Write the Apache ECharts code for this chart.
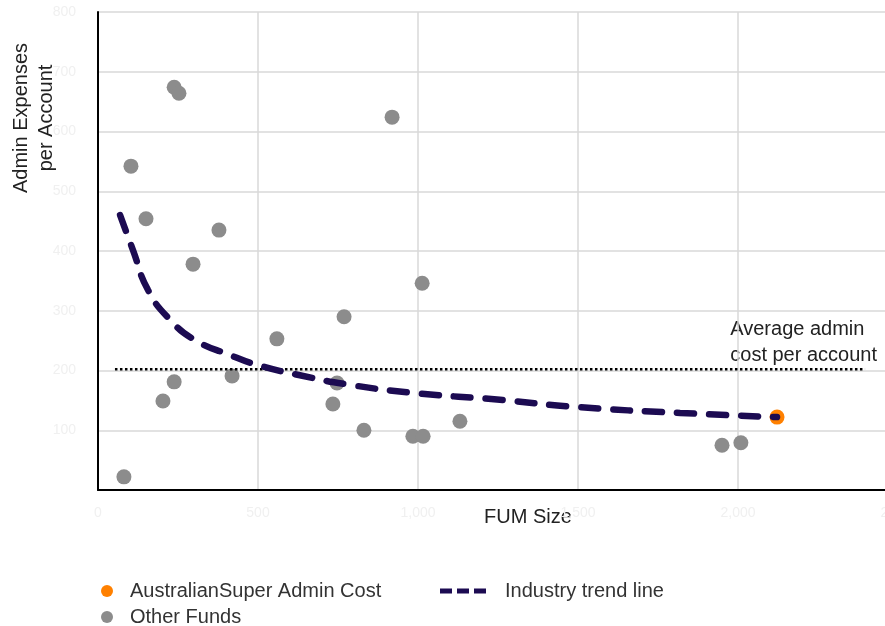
<!DOCTYPE html>
<html>
<head>
<meta charset="utf-8">
<script src="https://cdn.jsdelivr.net/npm/echarts@6/dist/echarts.min.js"></script>
<style>html,body{margin:0;padding:0;background:#fff}#c{width:885px;height:626px}</style>
</head>
<body>
<div id="c"></div>
<script>
// Data
const otherFundsFUM = [81, 103, 150, 203, 238, 238, 253, 297, 378, 419, 559, 734, 747, 769, 831, 919, 984, 1016, 1013, 1131, 1950, 2009];
const otherFundsCost = [22, 542, 454, 149, 181, 674, 664, 378, 435, 191, 253, 144, 179, 290, 100, 624, 90, 90, 346, 115, 75, 79];
const ausSuperFUM = [2122];
const ausSuperCost = [122];
const trendFUM = [69, 109, 156, 225, 303, 412, 500, 631, 787, 997, 1256, 1494, 1819, 2122];
const trendCost = [460, 402, 335, 285, 251, 226, 209, 192, 176, 162, 151, 139, 129, 122];
const avgCost = 202;
const avgFUMRange = [53, 2397];
const xTicks = [0, 500, 1000, 1500, 2000, 2500];
const yTicks = [0, 100, 200, 300, 400, 500, 600, 700, 800];

const zip = (a, b) => a.map((v, i) => [v, b[i]]);
const font = 'Liberation Sans, Arial, sans-serif';
const txt = (pad) => ({ fontSize: 20, color: '#333', fontFamily: font, padding: [0, 0, 0, pad] });
const dashIcon = 'path://M0,0h12v5h-12z M17,0h12v5h-12z M34,0h12v5h-12z';

const chart = echarts.init(document.getElementById('c'));
chart.setOption({
  animation: false,
  textStyle: { fontFamily: font },
  grid: { left: 98, width: 800, top: 12, height: 478, outerBoundsMode: 'none', containLabel: false },
  xAxis: {
    type: 'value', min: xTicks[0], max: xTicks[xTicks.length - 1], interval: 500,
    axisLine: { show: true, onZero: false, lineStyle: { color: '#000', width: 2 } },
    axisTick: { show: false },
    splitLine: { show: true, lineStyle: { color: '#d9d9d9', width: 1.5 } },
    axisLabel: { color: '#f0f0f0', fontSize: 14, margin: 16,
      formatter: v => v.toLocaleString('en-US') }
  },
  yAxis: {
    type: 'value', min: yTicks[0], max: yTicks[yTicks.length - 1], interval: 100,
    axisLine: { show: true, onZero: false, lineStyle: { color: '#000', width: 2 } },
    axisTick: { show: false },
    splitLine: { show: true, lineStyle: { color: '#d9d9d9', width: 1.5 } },
    axisLabel: { color: '#f0f0f0', fontSize: 14, margin: 22, showMinLabel: false }
  },
  legend: [
    { left: 96, top: 576, itemWidth: 12, itemHeight: 12, textStyle: txt(12),
      data: [{ name: 'AustralianSuper Admin Cost', icon: 'circle' }] },
    { left: 96, top: 602, itemWidth: 12, itemHeight: 12, textStyle: txt(12),
      data: [{ name: 'Other Funds', icon: 'circle' }] },
    { left: 435, top: 576, itemWidth: 48, itemHeight: 5, textStyle: txt(13),
      data: [{ name: 'Industry trend line', icon: dashIcon }] }
  ],
  graphic: [
    { type: 'text', left: 484, top: 507,
      style: { text: 'FUM Size', font: '20px ' + font, fill: '#222' } },
    { type: 'text', x: 9, y: 118, rotation: Math.PI / 2,
      style: { text: 'Admin Expenses\nper Account', font: '20px ' + font, fill: '#222',
        align: 'center', verticalAlign: 'top', lineHeight: 25, x: 0, y: 0 } },
    { type: 'text', right: 8, top: 316,
      style: { text: 'Average admin\ncost per account', font: '20px ' + font, fill: '#222',
        align: 'right', lineHeight: 26 } }
  ],
  series: [
    {
      name: 'AustralianSuper Admin Cost', type: 'scatter', symbolSize: 15, z: 2,
      itemStyle: { color: '#ff8000', opacity: 1 },
      data: zip(ausSuperFUM, ausSuperCost)
    },
    {
      name: 'Other Funds', type: 'scatter', symbolSize: 15, z: 2,
      itemStyle: { color: '#8c8c8c', opacity: 1 },
      data: zip(otherFundsFUM, otherFundsCost)
    },
    {
      name: 'Average', type: 'line', symbol: 'none', z: 3, silent: true,
      lineStyle: { color: '#000', width: 2.5, type: [2.5, 2.5] },
      data: avgFUMRange.map(x => [x, avgCost])
    },
    {
      name: 'Industry trend line', type: 'line', symbol: 'none', smooth: true, z: 4,
      itemStyle: { color: '#1c0b52' },
      lineStyle: { color: '#1c0b52', width: 6.5, type: [17, 15], cap: 'round' },
      data: zip(trendFUM, trendCost)
    }
  ]
});
</script>
</body>
</html>
